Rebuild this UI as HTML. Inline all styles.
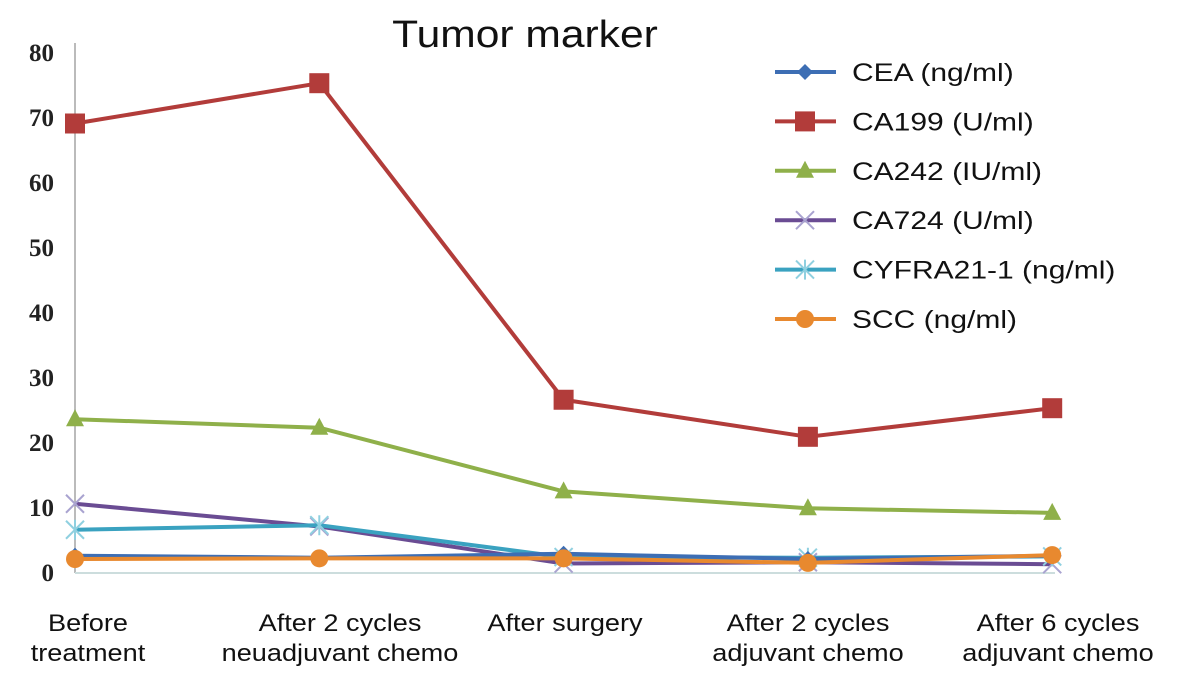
<!DOCTYPE html>
<html><head><meta charset="utf-8"><style>
body{margin:0;background:#fff;}
svg{display:block;}
.t{font-family:"Liberation Sans",sans-serif;}
.s{font-family:"Liberation Serif",serif;font-weight:bold;}
</style></head><body>
<svg id="chart" width="1181" height="686" viewBox="0 0 1181 686">
<text class="t" id="title" x="525" y="47" font-size="38" text-anchor="middle" fill="#111">Tumor marker</text>
<line x1="75" y1="43" x2="75" y2="573" stroke="#bbb" stroke-width="2"/>
<line x1="75" y1="573" x2="1055" y2="573" stroke="#cdd" stroke-width="2"/>
<g id="yt"></g><g id="xt"></g><g id="series"></g><g id="legend"></g>
</svg>
<script>
const categories=[["Before","treatment"],["After 2 cycles","neuadjuvant chemo"],["After surgery"],["After 2 cycles","adjuvant chemo"],["After 6 cycles","adjuvant chemo"]];
const yTicks=[0,10,20,30,40,50,60,70,80];
const seriesNames=["CEA (ng/ml)","CA199 (U/ml)","CA242 (IU/ml)","CA724 (U/ml)","CYFRA21-1 (ng/ml)","SCC (ng/ml)"];
const cea=[2.5,2.2,2.8,2.0,2.5];
const ca199=[69,75.2,26.5,20.8,25.2];
const ca242=[23.5,22.2,12.4,9.8,9.1];
const ca724=[10.5,7,1.3,1.5,1.2];
const cyfra=[6.5,7.2,2.3,2.2,2.4];
const scc=[2.0,2.1,2.1,1.4,2.6];
const allSeries=[cea,ca199,ca242,ca724,cyfra,scc];
const colors=["#3d6eb4","#b23c3a","#8fb04a","#6a4c93","#3aa2c0","#e8892f"];
const markers=["diamond","square","triangle","x","star","circle"];
const NS="http://www.w3.org/2000/svg";
const X=i=>75+i*244.3;
const Y=v=>572-v*6.5;
function mk(tag,attrs,parent){const e=document.createElementNS(NS,tag);for(const k in attrs)e.setAttribute(k,attrs[k]);parent.appendChild(e);return e;}
function stretch(t,f){const w=t.getComputedTextLength();t.setAttribute('textLength',w*f);t.setAttribute('lengthAdjust','spacingAndGlyphs');}
stretch(document.getElementById('title'),1.12);
const yt=document.getElementById('yt');
yTicks.forEach(v=>{const t=mk('text',{x:54,y:Y(v)+9,'font-size':25,'text-anchor':'end',fill:'#222',class:'s'},yt);t.textContent=v;

});
const xt=document.getElementById('xt');
const xCenters=[88,340,565,808,1058];
categories.forEach((c,i)=>{c.forEach((ln,j)=>{const t=mk('text',{x:xCenters[i],y:631+j*30,'font-size':24,'text-anchor':'middle',fill:'#111',class:'t'},xt);t.textContent=ln;


stretch(t,1.13);});});
function marker(g,type,x,y,col){let e;
 if(type=="diamond")e=mk('polygon',{points:`${x},${y-8} ${x+8},${y} ${x},${y+8} ${x-8},${y}`,fill:col},g);
 else if(type=="square")e=mk('rect',{x:x-10,y:y-10,width:20,height:20,fill:col},g);
 else if(type=="triangle")e=mk('polygon',{points:`${x},${y-10} ${x+9},${y+7} ${x-9},${y+7}`,fill:col},g);
 else if(type=="circle")e=mk('circle',{cx:x,cy:y,r:9,fill:col},g);
 else if(type=="x"){e=mk('path',{d:`M${x-9},${y-9}L${x+9},${y+9}M${x-9},${y+9}L${x+9},${y-9}`,stroke:'#a9a3d0','stroke-width':2},g);}
 else {e=mk('path',{d:`M${x-9},${y-9}L${x+9},${y+9}M${x-9},${y+9}L${x+9},${y-9}M${x},${y-10}L${x},${y+10}`,stroke:'#8fd0e0','stroke-width':2},g);}
 
 }
const sg=document.getElementById('series');
const order=[2,1,3,4,0,5];
order.forEach(k=>{const g=mk('g',{},sg);
 
 
 const d=allSeries[k].map((v,i)=>(i?'L':'M')+X(i)+','+Y(v)).join('');
 const p=mk('path',{d:d,fill:'none',stroke:colors[k],'stroke-width':4,'stroke-linejoin':'round'},g);
 
 
 allSeries[k].forEach((v,i)=>marker(g,markers[k],X(i),Y(v),colors[k]));});
const lg=document.getElementById('legend');
seriesNames.forEach((n,k)=>{const y=72+k*49.4;const g=mk('g',{},lg);
 
 
 mk('line',{x1:775,y1:y,x2:836,y2:y,stroke:colors[k],'stroke-width':4},g);
 marker(g,markers[k],805,y,colors[k]);
 const t=mk('text',{x:852,y:y+9,'font-size':25,fill:'#111',class:'t'},g);t.textContent=n;
 
 
 stretch(t,1.2);});
</script>
</body></html>
